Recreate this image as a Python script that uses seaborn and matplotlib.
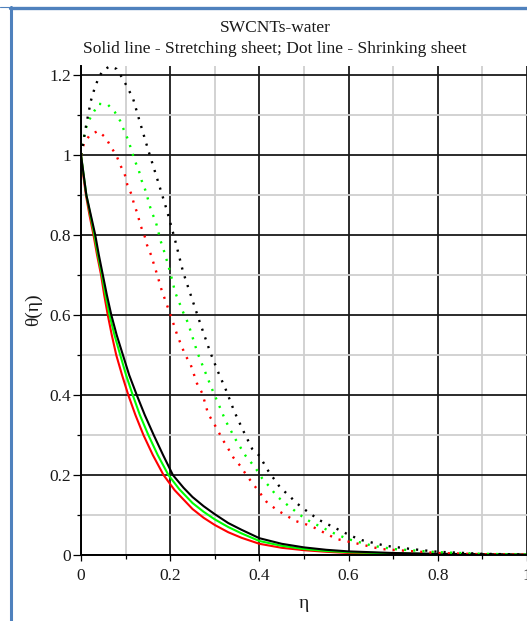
import matplotlib
matplotlib.use("Agg")
import matplotlib.pyplot as plt
import seaborn as sns
import numpy as np
from matplotlib.lines import Line2D
from matplotlib.ticker import MultipleLocator, FixedLocator

# ---- data ----
title_lines = ["SWCNTs-water", "Solid line - Stretching sheet; Dot line - Shrinking sheet"]
x_label = "η"
y_label = "θ(η)"
x_ticks = [0, 0.2, 0.4, 0.6, 0.8, 1.0]
x_tick_labels = ["0", "0.2", "0.4", "0.6", "0.8", "1"]
y_ticks = [0, 0.2, 0.4, 0.6, 0.8, 1.0, 1.2]
y_tick_labels = ["0", "0.2", "0.4", "0.6", "0.8", "1", "1.2"]

# Stretching sheet (solid lines)
eta_black_solid = [0, 0.006, 0.012, 0.022, 0.032, 0.04, 0.049, 0.058, 0.068, 0.08, 0.094, 0.108,
                   0.125, 0.143, 0.163, 0.184, 0.206, 0.23, 0.25, 0.275, 0.3, 0.33, 0.36, 0.4,
                   0.45, 0.5, 0.55, 0.6, 0.7, 0.8, 0.9, 1.0]
theta_black_solid = [1.0, 0.95, 0.9, 0.85, 0.8, 0.75, 0.7, 0.65, 0.6, 0.55, 0.5, 0.45,
                     0.4, 0.35, 0.3, 0.25, 0.2, 0.168, 0.145, 0.122, 0.102, 0.08, 0.063, 0.042,
                     0.028, 0.019, 0.013, 0.009, 0.005, 0.003, 0.002, 0.001]

eta_green_solid = [0, 0.006, 0.012, 0.021, 0.030, 0.038, 0.047, 0.055, 0.064, 0.075, 0.088, 0.101,
                   0.116, 0.132, 0.151, 0.172, 0.196, 0.22, 0.25, 0.275, 0.3, 0.33, 0.36, 0.4,
                   0.45, 0.5, 0.55, 0.6, 0.7, 0.8, 0.9, 1.0]
theta_green_solid = [1.0, 0.95, 0.9, 0.85, 0.8, 0.75, 0.7, 0.65, 0.6, 0.55, 0.5, 0.45,
                     0.4, 0.35, 0.3, 0.25, 0.2, 0.165, 0.13, 0.108, 0.089, 0.07, 0.054, 0.035,
                     0.023, 0.015, 0.01, 0.007, 0.004, 0.002, 0.001, 0.0005]

eta_red_solid = [0, 0.005, 0.011, 0.019, 0.028, 0.036, 0.045, 0.052, 0.06, 0.069, 0.079, 0.092,
                 0.106, 0.122, 0.14, 0.161, 0.185, 0.21, 0.25, 0.275, 0.3, 0.33, 0.36, 0.4,
                 0.45, 0.5, 0.55, 0.6, 0.7, 0.8, 0.9, 1.0]
theta_red_solid = [1.0, 0.95, 0.9, 0.85, 0.8, 0.75, 0.7, 0.65, 0.6, 0.55, 0.5, 0.45,
                   0.4, 0.35, 0.3, 0.25, 0.2, 0.162, 0.115, 0.093, 0.075, 0.057, 0.043, 0.028,
                   0.018, 0.012, 0.008, 0.005, 0.003, 0.002, 0.001, 0.0005]

# Shrinking sheet (dotted lines)
eta_black_dot = [0, 0.005, 0.01, 0.016, 0.022, 0.03, 0.04, 0.05, 0.065, 0.08, 0.094, 0.106,
                 0.117, 0.13, 0.15, 0.171, 0.193, 0.211, 0.229, 0.252, 0.267, 0.29, 0.308, 0.326,
                 0.344, 0.364, 0.384, 0.4, 0.42, 0.447, 0.467, 0.483, 0.5, 0.533, 0.569, 0.605,
                 0.63, 0.683, 0.74, 0.8, 0.9, 1.0]
theta_black_dot = [1.0, 1.03, 1.065, 1.1, 1.135, 1.165, 1.195, 1.212, 1.222, 1.215, 1.19, 1.165,
                   1.14, 1.09, 1.015, 0.94, 0.86, 0.787, 0.707, 0.63, 0.58, 0.506, 0.456, 0.41,
                   0.358, 0.31, 0.265, 0.248, 0.21, 0.168, 0.148, 0.13, 0.115, 0.088, 0.068, 0.048,
                   0.037, 0.023, 0.015, 0.008, 0.003, 0.001]

eta_green_dot = [0, 0.009, 0.016, 0.027, 0.04, 0.061, 0.076, 0.088, 0.097, 0.106, 0.12, 0.13,
                 0.136, 0.145, 0.151, 0.158, 0.167, 0.173, 0.178, 0.187, 0.2, 0.211, 0.229, 0.24,
                 0.261, 0.279, 0.297, 0.305, 0.324, 0.346, 0.369, 0.391, 0.407, 0.425, 0.438,
                 0.465, 0.503, 0.533, 0.566, 0.598, 0.654, 0.7, 0.8, 0.9, 1.0]
theta_green_dot = [1.0, 1.06, 1.083, 1.105, 1.128, 1.125, 1.107, 1.085, 1.06, 1.037, 0.988, 0.96,
                   0.936, 0.91, 0.886, 0.858, 0.836, 0.81, 0.787, 0.757, 0.707, 0.657, 0.607, 0.58,
                   0.506, 0.456, 0.406, 0.386, 0.336, 0.29, 0.248, 0.218, 0.19, 0.168, 0.148,
                   0.123, 0.09, 0.073, 0.055, 0.04, 0.023, 0.015, 0.007, 0.003, 0.001]

eta_red_dot = [0, 0.007, 0.02, 0.038, 0.056, 0.067, 0.079, 0.088, 0.098, 0.104, 0.113, 0.119,
               0.127, 0.133, 0.142, 0.148, 0.157, 0.164, 0.171, 0.18, 0.193, 0.202, 0.216, 0.234,
               0.245, 0.26, 0.272, 0.285, 0.297, 0.319, 0.33, 0.342, 0.357, 0.369, 0.384, 0.398,
               0.418, 0.443, 0.481, 0.515, 0.573, 0.622, 0.672, 0.8, 0.9, 1.0]
theta_red_dot = [1.0, 1.03, 1.05, 1.06, 1.043, 1.02, 1.0, 0.975, 0.952, 0.925, 0.902, 0.877,
                 0.852, 0.825, 0.8, 0.775, 0.75, 0.725, 0.7, 0.665, 0.624, 0.596, 0.549, 0.499,
                 0.479, 0.429, 0.404, 0.353, 0.331, 0.286, 0.266, 0.243, 0.223, 0.203, 0.18, 0.16,
                 0.13, 0.11, 0.085, 0.073, 0.04, 0.028, 0.015, 0.005, 0.002, 0.001]

# ---- styling ----
sns.set_theme(style="white")
plt.rcParams["font.family"] = ["Liberation Serif", "DejaVu Serif"]

W, H = 527, 621
fig = plt.figure(figsize=(W / 100, H / 100), dpi=100)
fig.patch.set_facecolor("white")

ax_left, ax_right = 81, 527
ax_bottom, ax_top = 555, 66
ax = fig.add_axes([ax_left / W, (H - ax_bottom) / H, (ax_right - ax_left) / W, (ax_bottom - ax_top) / H])
ax.set_facecolor("white")

dot_style = (0, (0.9, 3.0))
series = [
    (eta_red_solid, theta_red_solid, "#ff0000", "-", 1.5),
    (eta_green_solid, theta_green_solid, "#00ff00", "-", 1.5),
    (eta_black_solid, theta_black_solid, "#000000", "-", 1.5),
    (eta_red_dot, theta_red_dot, "#ff0000", dot_style, 1.7),
    (eta_green_dot, theta_green_dot, "#00ff00", dot_style, 1.7),
    (eta_black_dot, theta_black_dot, "#000000", dot_style, 1.7),
]
for xs, ys, c, ls, lw in series:
    sns.lineplot(x=xs, y=ys, ax=ax, color=c, estimator=None, sort=False,
                 linewidth=lw, linestyle=ls, zorder=5)

ax.set_xlim(0, 1.0)
ax.set_ylim(0, (ax_bottom - ax_top) / 400.0)

ax.xaxis.set_major_locator(FixedLocator(x_ticks))
ax.set_xticklabels(x_tick_labels)
ax.yaxis.set_major_locator(FixedLocator(y_ticks))
ax.set_yticklabels(y_tick_labels)
ax.xaxis.set_minor_locator(MultipleLocator(0.1))
ax.yaxis.set_minor_locator(MultipleLocator(0.1))

ax.grid(which="minor", color="#cfcfcf", linewidth=1.3, zorder=0)
ax.grid(which="major", color="#1a1a1a", linewidth=1.3, zorder=1)
ax.set_axisbelow(True)

for s in ["top", "right"]:
    ax.spines[s].set_visible(False)
for s in ["left", "bottom"]:
    ax.spines[s].set_color("black")
    ax.spines[s].set_linewidth(1.4)
    ax.spines[s].set_zorder(6)

ax.tick_params(which="both", direction="out", color="black", width=0.9,
               labelsize=12.5, labelcolor="#1a1a1a", left=True, bottom=True)
ax.tick_params(which="major", length=5.8, pad=1.5)
ax.tick_params(which="minor", length=3)
ax.tick_params(axis="x", which="major", length=4.5, pad=4.5)

ax.set_xlabel("")
ax.set_ylabel("")
fig.text(304 / W, 1 - 603 / H, x_label, ha="center", va="center", fontsize=14, color="#1a1a1a")
fig.text(33 / W, 1 - 310 / H, y_label, ha="center", va="center", rotation=90, fontsize=14, color="#1a1a1a")

fig.text(275 / W, 1 - 28 / H, title_lines[0], ha="center", va="center", fontsize=12.5, color="#1a1a1a")
fig.text(275 / W, 1 - 49 / H, title_lines[1], ha="center", va="center", fontsize=12.5, color="#1a1a1a")

# screenshot frame (blue)
frame_c = "#4f81bd"
fig.add_artist(Line2D([11 / W, 11 / W], [0, 1 - 7 / H], transform=fig.transFigure, color=frame_c, linewidth=2.2))
fig.add_artist(Line2D([10 / W, 1], [1 - 7.5 / H, 1 - 7.5 / H], transform=fig.transFigure, color=frame_c, linewidth=2.4))
fig.add_artist(Line2D([0, 11 / W], [1 - 7 / H, 1 - 7 / H], transform=fig.transFigure, color=frame_c, linewidth=0.8))

fig.savefig("out.png", dpi=100, facecolor="white")
